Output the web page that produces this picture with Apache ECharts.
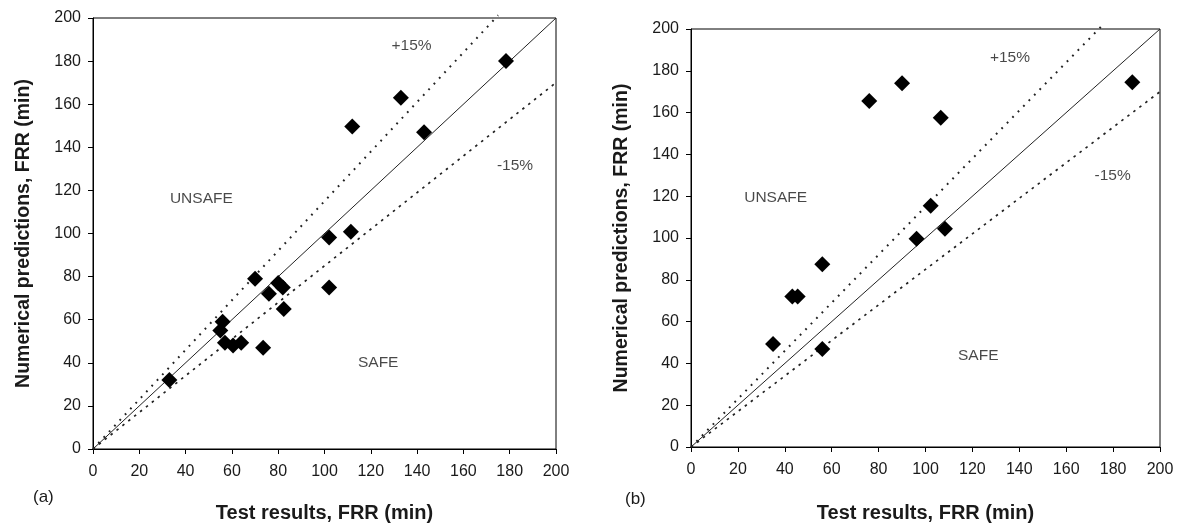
<!DOCTYPE html>
<html>
<head>
<meta charset="utf-8">
<script src="https://cdn.jsdelivr.net/npm/echarts@6/dist/echarts.min.js"></script>
<style>
  html, body { margin: 0; padding: 0; background: #fff; }
  #chart { width: 1182px; height: 528px; }
</style>
</head>
<body>
<div id="chart"></div>
<script>
// (a) test results vs numerical predictions, FRR in minutes
const testA = [33, 56, 55, 57, 60.5, 64, 73.5, 70, 76, 80, 82, 82.4, 102, 102, 111.4, 112, 133, 143, 178.4];
const predA = [32, 59, 55, 49.3, 48, 49.3, 47, 79, 72, 77, 75, 65, 98.2, 75, 100.8, 149.6, 163, 147, 180];

// (b) test results vs numerical predictions, FRR in minutes
const testB = [35, 43.2, 45.5, 56, 56, 76, 90, 106.5, 102.2, 96.2, 108.3, 188.2];
const predB = [49.3, 72, 72, 87.4, 46.9, 165.5, 174, 157.5, 115.4, 99.7, 104.4, 174.5];

// Axis ticks
const tickValues = [0, 20, 40, 60, 80, 100, 120, 140, 160, 180, 200];

// Reference lines: equality, +15 % and -15 %
const equalLine = [[0, 0], [200, 200]];
const plus15Line = [[0, 0], [175, 201.25]];
const minus15Line = [[0, 0], [200, 170]];

// Region annotations [x, y] in data units per panel
const notesA = [
  { text: '+15%', at: [137.6, 187] },
  { text: '-15%', at: [182.3, 131.3] },
  { text: 'UNSAFE', at: [46.8, 116.3] },
  { text: 'SAFE', at: [123.2, 40] }
];
const notesB = [
  { text: '+15%', at: [136, 186.3] },
  { text: '-15%', at: [179.8, 129.6] },
  { text: 'UNSAFE', at: [36.1, 119.4] },
  { text: 'SAFE', at: [122.5, 43.5] }
];

const FONT = '"Liberation Sans", Arial, sans-serif';
const INK = '#1a1a1a';
const pairs = (xs, ys) => xs.map((x, i) => [x, ys[i]]);

function axisX(gridIndex, gap) {
  return {
    type: 'value', gridIndex, min: tickValues[0], max: tickValues[tickValues.length - 1], interval: 20,
    name: 'Test results, FRR (min)', nameLocation: 'middle', nameGap: gap,
    nameTextStyle: { fontFamily: FONT, fontSize: 20, fontWeight: 'bold', color: INK },
    axisLine: { show: true, lineStyle: { color: '#000', width: 1 } },
    axisTick: { show: true, length: 5, inside: false, lineStyle: { color: '#000' } },
    axisLabel: { fontFamily: FONT, fontSize: 16, color: INK, margin: 15 },
    splitLine: { show: false }
  };
}
function axisY(gridIndex, gap) {
  return {
    type: 'value', gridIndex, min: tickValues[0], max: tickValues[tickValues.length - 1], interval: 20,
    name: 'Numerical predictions, FRR (min)', nameLocation: 'middle', nameGap: gap,
    nameTextStyle: { fontFamily: FONT, fontSize: 19.5, fontWeight: 'bold', color: INK },
    axisLine: { show: true, lineStyle: { color: '#000', width: 1 } },
    axisTick: { show: true, length: 5, inside: false, lineStyle: { color: '#000' } },
    axisLabel: { fontFamily: FONT, fontSize: 16, color: INK, margin: 12 },
    splitLine: { show: false }
  };
}

function refLines(idx) {
  const base = { type: 'line', xAxisIndex: idx, yAxisIndex: idx, symbol: 'none', clip: false, silent: true, z: 1 };
  return [
    Object.assign({}, base, { data: equalLine, lineStyle: { color: '#222', width: 1, type: 'solid' } }),
    Object.assign({}, base, { data: plus15Line, lineStyle: { color: '#222', width: 2, type: [1.8, 6] } }),
    Object.assign({}, base, { data: minus15Line, lineStyle: { color: '#222', width: 1.7, type: [2.5, 5] } })
  ];
}

function noteSeries(idx, notes) {
  return {
    type: 'scatter', xAxisIndex: idx, yAxisIndex: idx, silent: true, symbolSize: 0,
    data: notes.map(n => ({ value: n.at, name: n.text })),
    label: {
      show: true, position: 'inside', formatter: p => p.name,
      fontFamily: FONT, fontSize: 15.5, color: INK
    },
    z: 3
  };
}

function points(idx, xs, ys) {
  return {
    type: 'scatter', xAxisIndex: idx, yAxisIndex: idx,
    symbol: 'diamond', symbolSize: [16, 16],
    itemStyle: { color: '#000', opacity: 1 },
    data: pairs(xs, ys), z: 4
  };
}

const chart = echarts.init(document.getElementById('chart'), null, { renderer: 'canvas' });
chart.setOption({
  animation: false,
  backgroundColor: '#fff',
  grid: [
    { left: 93, top: 18, width: 463, height: 437, show: true, borderColor: '#000', borderWidth: 1 },
    { left: 691, top: 29, width: 469, height: 424, show: true, borderColor: '#000', borderWidth: 1 }
  ],
  xAxis: [axisX(0, 54), axisX(1, 56)],
  yAxis: [axisY(0, 59), axisY(1, 59)],
  graphic: [
    { type: 'text', left: 33, top: 489, style: { text: '(a)', fontFamily: FONT, fontSize: 17, fill: INK } },
    { type: 'text', left: 625, top: 491, style: { text: '(b)', fontFamily: FONT, fontSize: 17, fill: INK } }
  ],
  series: [
    ...refLines(0), ...refLines(1),
    noteSeries(0, notesA), noteSeries(1, notesB),
    points(0, testA, predA), points(1, testB, predB)
  ]
});
</script>
</body>
</html>
